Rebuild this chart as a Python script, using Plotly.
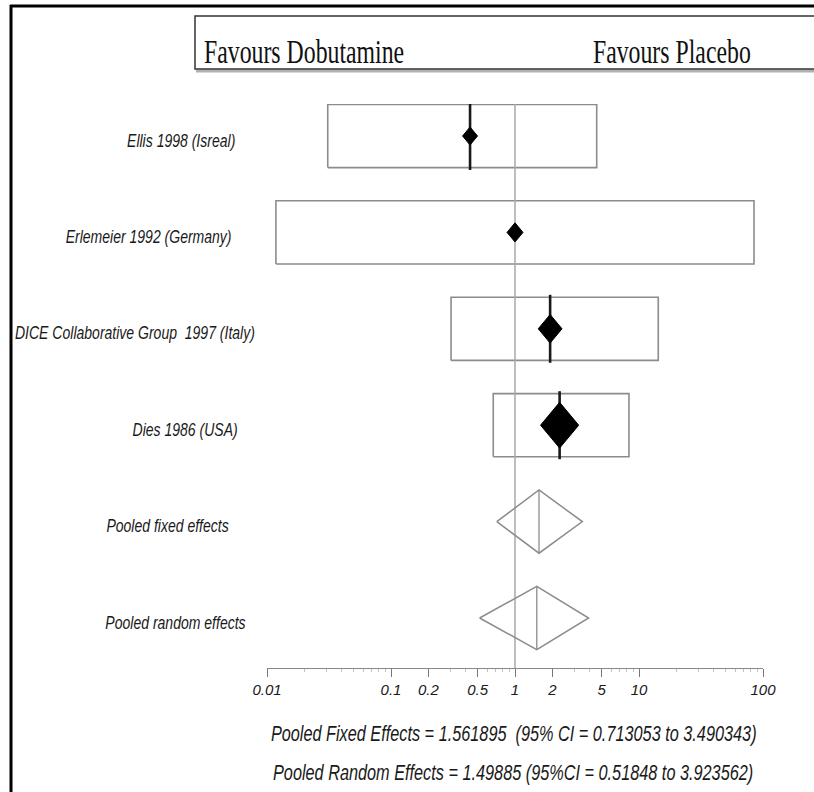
import numpy as np
import plotly.graph_objects as go

# ---- data -------------------------------------------------------------
studies = [
    "Ellis 1998 (Isreal)",
    "Erlemeier 1992 (Germany)",
    "DICE Collaborative Group  1997 (Italy)",
    "Dies 1986 (USA)",
]
odds_ratio = [0.434, 1.0, 1.92, 2.29]
ci_low = [0.0309, 0.0118, 0.305, 0.668]
ci_high = [4.56, 84.6, 14.3, 8.3]
weight = [9.0, 10.2, 22.6, 58.2]

pooled_labels = ["Pooled fixed effects", "Pooled random effects"]
pooled_est = [1.561895, 1.49885]
pooled_low = [0.713053, 0.51848]
pooled_high = [3.490343, 3.923562]

tick_vals = [0.01, 0.1, 0.2, 0.5, 1, 2, 5, 10, 100]
tick_text = ["0.01", "0.1", "0.2", "0.5", "1", "2", "5", "10", "100"]

# ---- layout geometry (pixels) -----------------------------------------
W, H = 814, 792
ML, MR, MT, MB = 267, 51, 104, 124
PW, PH = W - ML - MR, H - MT - MB
X_RANGE = [-2, 2]
Y_RANGE = [0.4813, 6.332]
DEC_PX = PW / (X_RANGE[1] - X_RANGE[0])
ROW_PX = PH / (Y_RANGE[1] - Y_RANGE[0])


def px_x(px):
    return (px - ML) / PW


def px_y(py):
    return (H - MB - py) / PH


n = len(studies)
rows = [n + 2 - i for i in range(n)]          # 6,5,4,3
pooled_rows = [2, 1]
BOX_HALF = 31.6 / ROW_PX
LINE_HALF = 34.0 / ROW_PX

SANS = "Liberation Sans, Arial, Helvetica, sans-serif"
SERIF = "Liberation Serif, Times New Roman, serif"
GREY = "#8c8c8c"

fig = go.Figure()

# confidence-interval boxes
for lo, hi, r in zip(ci_low, ci_high, rows):
    fig.add_trace(go.Scatter(
        x=[lo, hi, hi, lo, lo],
        y=[r - BOX_HALF, r - BOX_HALF, r + BOX_HALF, r + BOX_HALF, r - BOX_HALF],
        mode="lines", line=dict(color=GREY, width=1.6),
        hoverinfo="skip", showlegend=False))

# line of no effect
fig.add_trace(go.Scatter(
    x=[1, 1], y=Y_RANGE, mode="lines",
    line=dict(color="#a8a8a8", width=1.5),
    hoverinfo="skip", showlegend=False))

# estimate markers: a vertical stroke plus a diamond sized by weight
for est, w, r in zip(odds_ratio, weight, rows):
    if est != 1:
        fig.add_trace(go.Scatter(
            x=[est, est], y=[r - LINE_HALF, r + LINE_HALF], mode="lines",
            line=dict(color="#1a1a1a", width=2.6),
            hoverinfo="skip", showlegend=False))
    hw = 2.5 * np.sqrt(w)
    hh = 1.2 * hw
    fx = 10 ** (hw / DEC_PX)
    dy = hh / ROW_PX
    fig.add_trace(go.Scatter(
        x=[est / fx, est, est * fx, est, est / fx],
        y=[r, r + dy, r, r - dy, r],
        mode="lines", fill="toself", fillcolor="black",
        line=dict(color="black", width=1),
        hoverinfo="skip", showlegend=False))

# pooled summary diamonds
for est, lo, hi, r in zip(pooled_est, pooled_low, pooled_high, pooled_rows):
    fig.add_trace(go.Scatter(
        x=[lo, est, hi, est, lo],
        y=[r, r + BOX_HALF, r, r - BOX_HALF, r],
        mode="lines", line=dict(color=GREY, width=1.5),
        hoverinfo="skip", showlegend=False))
    fig.add_trace(go.Scatter(
        x=[est, est], y=[r - BOX_HALF, r + BOX_HALF], mode="lines",
        line=dict(color=GREY, width=1.3),
        hoverinfo="skip", showlegend=False))

# row labels
label_px = [181, 148, 135, 185, 167, 175]
annotations = []
for text, r, lx in zip(studies + pooled_labels, rows + pooled_rows, label_px):
    annotations.append(dict(
        x=px_x(lx), xref="paper", y=r - 4 / ROW_PX, yref="y",
        text=text, showarrow=False, xanchor="center", yanchor="middle",
        font=dict(family=SANS, size=18.7, color="#1a1a1a", style="italic")))

# header
for text, cx in [("Favours Dobutamine", 304), ("Favours Placebo", 672)]:
    annotations.append(dict(
        x=px_x(cx), xref="paper", y=px_y(51), yref="paper",
        text=text, showarrow=False, xanchor="center", yanchor="middle",
        font=dict(family=SERIF, size=34, color="#111")))

# pooled summaries under the axis
summary = [
    f"Pooled Fixed Effects = {pooled_est[0]}  (95% CI = {pooled_low[0]} to {pooled_high[0]})",
    f"Pooled Random Effects = {pooled_est[1]} (95%CI = {pooled_low[1]} to {pooled_high[1]})",
]
for text, cy in zip(summary, [733, 772]):
    annotations.append(dict(
        x=px_x(513), xref="paper", y=px_y(cy), yref="paper",
        text=text, showarrow=False, xanchor="center", yanchor="middle",
        font=dict(family=SANS, size=21.7, color="#1a1a1a", style="italic")))

shapes = [
    # outer frame
    dict(type="line", xref="paper", yref="paper", x0=px_x(11), x1=px_x(11),
         y0=px_y(5), y1=px_y(H + 5), line=dict(color="black", width=3)),
    dict(type="line", xref="paper", yref="paper", x0=px_x(10), x1=px_x(W + 5),
         y0=px_y(6), y1=px_y(6), line=dict(color="black", width=3)),
    # header box shadow and border
    dict(type="line", xref="paper", yref="paper", x0=px_x(196), x1=px_x(W + 5),
         y0=px_y(71), y1=px_y(71), line=dict(color="#b0b0b0", width=3)),
    dict(type="rect", xref="paper", yref="paper", x0=px_x(195), x1=px_x(W + 10),
         y0=px_y(69), y1=px_y(16), line=dict(color="#333", width=1.5),
         fillcolor="white"),
]

minor_vals = [m * 10 ** k for k in range(-2, 2) for m in range(2, 10)
              if m * 10 ** k not in tick_vals]

fig.update_layout(
    width=W, height=H,
    margin=dict(l=ML, r=MR, t=MT, b=MB, pad=0),
    paper_bgcolor="white", plot_bgcolor="white",
    showlegend=False,
    annotations=annotations, shapes=shapes,
    xaxis=dict(
        type="log", range=X_RANGE, tickvals=tick_vals, ticktext=tick_text,
        ticks="outside", ticklen=8, tickwidth=1.3, tickcolor="#777",
        showline=True, linecolor="#888", linewidth=1.4,
        showgrid=False, zeroline=False,
        tickfont=dict(family=SANS, size=15, color="#1a1a1a", style="italic"),
        minor=dict(tickvals=minor_vals, ticks="outside", ticklen=3,
                   tickcolor="#c4c4c4", tickwidth=1, showgrid=False),
    ),
    yaxis=dict(range=Y_RANGE, visible=False, showgrid=False, zeroline=False),
)

# condensed lettering: narrow each annotation horizontally about its centre
condense = """
function condenseText() {
  document.querySelectorAll('text.annotation-text').forEach(function (t) {
    var serif = (t.style.fontFamily || '').indexOf('Serif') >= 0;
    t.style.transformBox = 'fill-box';
    t.style.transformOrigin = 'center';
    t.style.transform = 'scaleX(' + (serif ? 0.7 : 0.75) + ')';
  });
}
condenseText();
var gd = document.getElementById('{plot_id}');
if (gd && gd.on) { gd.on('plotly_afterplot', condenseText); }
"""

fig.write_html("out.html", post_script=condense)
